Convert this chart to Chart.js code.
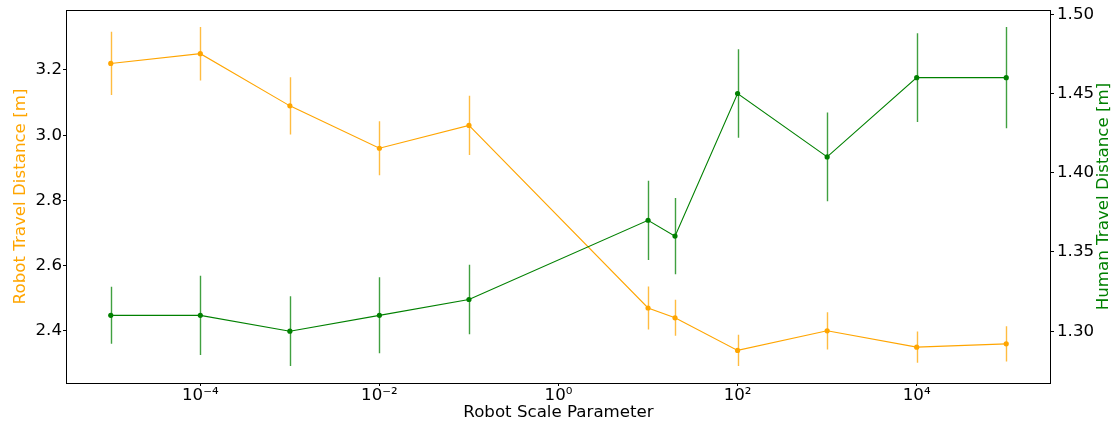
<!DOCTYPE html>
<html>
<head>
<meta charset="utf-8">
<title>Robot vs Human Travel Distance</title>
<script src="https://cdn.jsdelivr.net/npm/chart.js@4.4.1/dist/chart.umd.min.js"></script>
<style>
  html, body { margin: 0; padding: 0; background: #ffffff; }
  #wrap { width: 1115px; height: 423px; }
</style>
</head>
<body>
<div id="wrap"><canvas id="chart" width="1115" height="423"></canvas></div>
<script>
// Robot scale parameter values (x, log scale)
const scaleParams = [1e-5, 1e-4, 1e-3, 1e-2, 1e-1, 10, 20, 100, 1000, 1e4, 1e5];

// Robot travel distance [m]: mean and error half-width
const robotDistance = [3.22, 3.25, 3.09, 2.96, 3.03, 2.47, 2.44, 2.34, 2.40, 2.35, 2.36];
const robotError    = [0.097, 0.082, 0.088, 0.083, 0.091, 0.066, 0.055, 0.048, 0.057, 0.048, 0.054];

// Human travel distance [m]: mean and error half-width
const humanDistance = [1.31, 1.31, 1.30, 1.31, 1.32, 1.37, 1.36, 1.45, 1.41, 1.46, 1.46];
const humanError    = [0.018, 0.025, 0.022, 0.024, 0.022, 0.025, 0.024, 0.028, 0.028, 0.028, 0.032];

// Tick values
const xTickExponents = [-4, -2, 0, 2, 4];
const robotTicks = [2.4, 2.6, 2.8, 3.0, 3.2];
const humanTicks = [1.30, 1.35, 1.40, 1.45, 1.50];

const ORANGE = '#ffa500';
const GREEN = '#008000';
const FONT = 'DejaVu Sans';
const FS = 16.67;
const HUMAN_TITLE = 'Human Travel Distance [m]';

// Axis limits padded by 5% around the data including error bars
function paddedRange(vals, errs) {
  const lo = Math.min(...vals.map((v, i) => v - errs[i]));
  const hi = Math.max(...vals.map((v, i) => v + errs[i]));
  const m = (hi - lo) * 0.05;
  return [lo - m, hi + m];
}
const robotRange = paddedRange(robotDistance, robotError);
const humanRange = paddedRange(humanDistance, humanError);
const xLogMin = Math.log10(scaleParams[0]), xLogMax = Math.log10(scaleParams[scaleParams.length - 1]);
const xPad = (xLogMax - xLogMin) * 0.05;

const supMap = { '-': '\u207B', '0': '\u2070', '1': '\u00B9', '2': '\u00B2', '3': '\u00B3',
  '4': '\u2074', '5': '\u2075', '6': '\u2076', '7': '\u2077', '8': '\u2078', '9': '\u2079' };
const toSup = s => String(s).split('').map(c => supMap[c] || c).join('');

// Vertical error bars drawn beneath each dataset's markers
const errorBars = {
  id: 'errorBars',
  beforeDatasetDraw(chart, args) {
    const ds = chart.data.datasets[args.index];
    if (!ds.errors) return;
    const ctx = chart.ctx;
    const xs = chart.scales.x;
    const ys = chart.scales[ds.yAxisID];
    const area = chart.chartArea;
    ctx.save();
    ctx.beginPath();
    ctx.rect(area.left, area.top, area.right - area.left, area.bottom - area.top);
    ctx.clip();
    ctx.strokeStyle = ds.errorColor;
    ctx.lineWidth = 1.4;
    ctx.beginPath();
    ds.data.forEach((p, i) => {
      const px = Math.round(xs.getPixelForValue(p.x)) + 0.5;
      ctx.moveTo(px, ys.getPixelForValue(p.y - ds.errors[i]));
      ctx.lineTo(px, ys.getPixelForValue(p.y + ds.errors[i]));
    });
    ctx.stroke();
    ctx.restore();
  }
};

// Box frame around the plotting area, plus the right-hand axis title read bottom-to-top
const frame = {
  id: 'frame',
  afterDraw(chart) {
    const { ctx, chartArea: a } = chart;
    ctx.save();
    ctx.strokeStyle = '#000';
    ctx.lineWidth = 1;
    ctx.strokeRect(Math.round(a.left) + 0.5, Math.round(a.top) + 0.5,
      Math.round(a.right - a.left) - 1, Math.round(a.bottom - a.top));
    ctx.translate(1104, (a.top + a.bottom) / 2);
    ctx.rotate(-Math.PI / 2);
    ctx.fillStyle = GREEN;
    ctx.font = FS + 'px "' + FONT + '"';
    ctx.textAlign = 'center';
    ctx.textBaseline = 'middle';
    ctx.fillText(HUMAN_TITLE, 0, 0);
    ctx.restore();
  }
};

const tickGrid = { display: true, drawOnChartArea: false, drawTicks: true, tickLength: 3, color: '#000' };

// Vertical axes: fixed width and no extra room reserved for end labels
const fitY = w => s => { s.width = w; s.paddingTop = 0; s.paddingBottom = 0; };

new Chart(document.getElementById('chart'), {
  type: 'line',
  data: {
    datasets: [
      {
        label: 'Human Travel Distance',
        data: scaleParams.map((x, i) => ({ x, y: humanDistance[i] })),
        errors: humanError,
        errorColor: 'rgba(0,128,0,0.75)',
        yAxisID: 'yHuman',
        borderColor: GREEN,
        backgroundColor: GREEN,
        borderWidth: 1.1,
        pointRadius: 2.6,
        pointBorderWidth: 0,
        pointBackgroundColor: GREEN,
        tension: 0,
        order: 0
      },
      {
        label: 'Robot Travel Distance',
        data: scaleParams.map((x, i) => ({ x, y: robotDistance[i] })),
        errors: robotError,
        errorColor: 'rgba(255,165,0,0.75)',
        yAxisID: 'yRobot',
        borderColor: ORANGE,
        backgroundColor: ORANGE,
        borderWidth: 1.1,
        pointRadius: 2.6,
        pointBorderWidth: 0,
        pointBackgroundColor: ORANGE,
        tension: 0,
        order: 1
      }
    ]
  },
  options: {
    responsive: false,
    devicePixelRatio: 1,
    animation: false,
    layout: { padding: { top: 10, left: 0, right: 0, bottom: 0 } },
    plugins: { legend: { display: false }, tooltip: { enabled: false } },
    scales: {
      x: {
        type: 'logarithmic',
        position: 'bottom',
        min: Math.pow(10, xLogMin - xPad),
        max: Math.pow(10, xLogMax + xPad),
        afterBuildTicks: s => { s.ticks = xTickExponents.map(e => ({ value: Math.pow(10, e) })); },
        afterFit: s => { s.height = 40; s.paddingLeft = 0; s.paddingRight = 0; },
        grid: tickGrid,
        border: { display: false },
        ticks: {
          autoSkip: false, maxRotation: 0, padding: 0, color: '#000',
          font: { family: FONT, size: FS },
          callback: v => '10' + toSup(Math.round(Math.log10(v)))
        },
        title: {
          display: true, text: 'Robot Scale Parameter', color: '#000',
          font: { family: FONT, size: FS }, padding: { top: 0, bottom: 0 }
        }
      },
      yRobot: {
        type: 'linear',
        position: 'left',
        min: robotRange[0],
        max: robotRange[1],
        afterBuildTicks: s => { s.ticks = robotTicks.map(v => ({ value: v })); },
        afterFit: fitY(66),
        grid: tickGrid,
        border: { display: false },
        ticks: {
          padding: 1, color: '#000', font: { family: FONT, size: FS },
          callback: v => v.toFixed(1)
        },
        title: {
          display: true, text: 'Robot Travel Distance [m]', color: ORANGE,
          font: { family: FONT, size: FS }, padding: { top: 11, bottom: 0 }
        }
      },
      yHuman: {
        type: 'linear',
        position: 'right',
        min: humanRange[0],
        max: humanRange[1],
        afterBuildTicks: s => { s.ticks = humanTicks.map(v => ({ value: v })); },
        afterFit: fitY(64),
        grid: tickGrid,
        border: { display: false },
        ticks: {
          padding: 3, color: '#000', font: { family: FONT, size: FS },
          callback: v => v.toFixed(2)
        },
        title: { display: false }
      }
    }
  },
  plugins: [errorBars, frame]
});
</script>
</body>
</html>
